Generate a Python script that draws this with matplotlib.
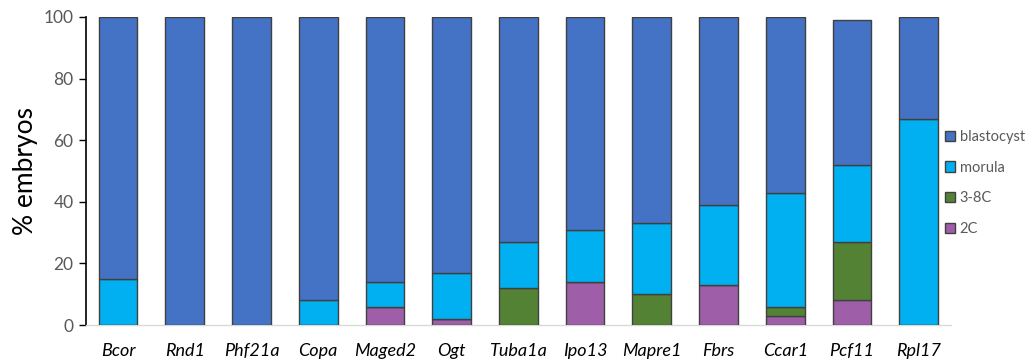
import numpy as np
import matplotlib.pyplot as plt

genes = ['Bcor', 'Rnd1', 'Phf21a', 'Copa', 'Maged2', 'Ogt', 'Tuba1a',
         'Ipo13', 'Mapre1', 'Fbrs', 'Ccar1', 'Pcf11', 'Rpl17']

# % of embryos at each stage, per injected gene
two_cell = [0, 0, 0, 0, 6, 2, 0, 14, 0, 13, 3, 8, 0]
three_eight_cell = [0, 0, 0, 0, 0, 0, 12, 0, 10, 0, 3, 19, 0]
morula = [15, 0, 0, 8, 8, 15, 15, 17, 23, 26, 37, 25, 67]
blastocyst = [85, 100, 100, 92, 86, 83, 73, 69, 67, 61, 57, 47, 33]

stages = [('2C', two_cell, '#9E5FA8'),
          ('3-8C', three_eight_cell, '#548235'),
          ('morula', morula, '#00B0F0'),
          ('blastocyst', blastocyst, '#4472C4')]

plt.rcParams['font.family'] = ['Lato', 'DejaVu Sans']

fig = plt.figure(figsize=(10.32, 3.59), dpi=100)
ax = fig.add_axes([0.0833, 0.0947, 0.838, 0.858])

x = np.arange(len(genes))
bottom = np.zeros(len(genes))
handles = []
for name, vals, color in stages:
    vals = np.array(vals, dtype=float)
    b = ax.bar(x, vals, width=0.58, bottom=bottom, color=color,
               edgecolor='#404040', linewidth=1.0, label=name, zorder=3)
    handles.append(b)
    bottom += vals

ax.set_xlim(-0.48, len(genes) - 0.52)
ax.set_ylim(0, 100)
ax.set_yticks(np.arange(0, 101, 20))
ax.set_xticks(x)
ax.set_xticklabels(genes, fontstyle='italic', fontsize=13, color='#000000')
ax.tick_params(axis='x', length=0, pad=13)
ax.tick_params(axis='y', labelsize=12.5, labelcolor='#595959', length=5,
               width=1, color='#000000', direction='out', pad=4)
ax.set_ylabel('% embryos', fontsize=19, labelpad=4)

for side in ['top', 'right']:
    ax.spines[side].set_visible(False)
ax.spines['left'].set_color('#000000')
ax.spines['left'].set_linewidth(1.2)
ax.spines['bottom'].set_color('#D9D9D9')
ax.spines['bottom'].set_linewidth(1.0)

leg = fig.legend(handles[::-1], [s[0] for s in stages[::-1]],
                 loc='center left', bbox_to_anchor=(0.903, 0.49),
                 frameon=False, fontsize=10.5, labelcolor='#595959',
                 handlelength=0.7, handleheight=0.7, handletextpad=0.3,
                 labelspacing=1.15)

fig.savefig('out.png', dpi=100)
